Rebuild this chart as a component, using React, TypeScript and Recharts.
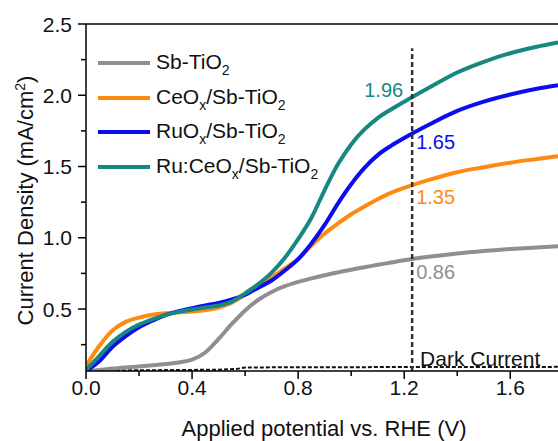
import { ComposedChart, Legend, Line, ReferenceLine, Scatter, XAxis, YAxis } from "recharts"

const FONT = "'Liberation Sans', Arial, sans-serif"

// applied potential (V vs RHE) shared by the four photocurrent curves
const potential = [0, 0.05, 0.1, 0.15, 0.2, 0.25, 0.3, 0.35, 0.4, 0.45, 0.5, 0.55, 0.6, 0.65, 0.7, 0.75, 0.8, 0.85, 0.9, 0.95, 1.0, 1.05, 1.1, 1.15, 1.2, 1.3, 1.4, 1.5, 1.6, 1.7, 1.78]

// current density (mA/cm2)
const sbTiO2 = [0.065, 0.072, 0.082, 0.09, 0.097, 0.105, 0.114, 0.125, 0.145, 0.195, 0.29, 0.395, 0.49, 0.565, 0.62, 0.66, 0.69, 0.715, 0.737, 0.757, 0.776, 0.793, 0.81, 0.826, 0.842, 0.868, 0.89, 0.907, 0.921, 0.932, 0.94]
const ceOxSbTiO2 = [0.1, 0.24, 0.35, 0.41, 0.44, 0.46, 0.47, 0.477, 0.483, 0.492, 0.51, 0.545, 0.6, 0.66, 0.72, 0.785, 0.85, 0.945, 1.03, 1.1, 1.165, 1.22, 1.27, 1.315, 1.35, 1.41, 1.46, 1.495, 1.527, 1.553, 1.573]
const ruOxSbTiO2 = [0.065, 0.133, 0.235, 0.31, 0.372, 0.418, 0.458, 0.485, 0.506, 0.525, 0.543, 0.567, 0.6, 0.65, 0.7, 0.77, 0.85, 0.96, 1.09, 1.24, 1.375, 1.49, 1.58, 1.645, 1.7, 1.8, 1.89, 1.955, 2.005, 2.045, 2.07]
const ruCeOxSbTiO2 = [0.07, 0.17, 0.27, 0.34, 0.39, 0.427, 0.457, 0.48, 0.497, 0.51, 0.525, 0.552, 0.61, 0.675, 0.755, 0.86, 0.99, 1.14, 1.335, 1.515, 1.655, 1.76, 1.84, 1.9, 1.955, 2.06, 2.16, 2.235, 2.295, 2.34, 2.37]

const darkPotential = [0, 0.2, 0.5, 0.57, 0.6, 1.0, 1.78]
const darkCurrent = [0.066, 0.07, 0.074, 0.08, 0.09, 0.092, 0.094]

const xTicks = [0, 0.2, 0.4, 0.6, 0.8, 1.0, 1.2, 1.4, 1.6]
const yTicks = [0.25, 0.5, 0.75, 1.0, 1.25, 1.5, 1.75, 2.0, 2.25, 2.5]

const GRAY = "#8f8f8f"
const ORANGE = "#ff8a12"
const BLUE = "#0c0cf0"
const TEAL = "#16887f"

const series = [
    { label: "Sb-TiO_2", color: GRAY, values: sbTiO2 },
    { label: "CeO_x/Sb-TiO_2", color: ORANGE, values: ceOxSbTiO2 },
    { label: "RuO_x/Sb-TiO_2", color: BLUE, values: ruOxSbTiO2 },
    { label: "Ru:CeO_x/Sb-TiO_2", color: TEAL, values: ruCeOxSbTiO2 },
]

// values read at 1.23 V, placed next to the dashed line
const annotations = [
    { v: 1.23, j: 2.037, text: "1.96", color: TEAL, anchor: "end", dx: -9, size: 20 },
    { v: 1.23, j: 1.672, text: "1.65", color: BLUE, anchor: "start", dx: 4, size: 20 },
    { v: 1.23, j: 1.286, text: "1.35", color: ORANGE, anchor: "start", dx: 4, size: 20 },
    { v: 1.23, j: 0.76, text: "0.86", color: GRAY, anchor: "start", dx: 4, size: 20 },
    { v: 1.26, j: 0.156, text: "Dark Current", color: "#111", anchor: "start", dx: 0, size: 21 },
]

const toPoints = (xs: number[], ys: number[]) => xs.map((v, i) => ({ v, j: ys[i] }))

// "CeO_x" -> CeO with subscript x
function richLabel(label: string) {
    const parts = label.split(/_(.)/)
    return parts.map((p, i) =>
        i % 2 === 1 ? (
            <span key={i} style={{ fontSize: 14, position: "relative", top: 6 }}>{p}</span>
        ) : (
            <span key={i}>{p}</span>
        )
    )
}

function LegendBox() {
    return (
        <div style={{ fontFamily: FONT, fontSize: 21, color: "#111" }}>
            {series.map((s) => (
                <div key={s.label} style={{ display: "flex", alignItems: "center", height: 34.5, lineHeight: "34.5px", whiteSpace: "nowrap" }}>
                    <div style={{ width: 52, height: 4, background: s.color, marginRight: 6 }} />
                    <div>{richLabel(s.label)}</div>
                </div>
            ))}
        </div>
    )
}

function YTick(props: any) {
    const { x, y, payload } = props
    const major = Math.abs(payload.value * 2 - Math.round(payload.value * 2)) < 1e-6
    return (
        <g>
            <line x1={x - (major ? 8 : 5)} x2={x} y1={y} y2={y} stroke="#000" strokeWidth={1.5} />
            {major && (
                <text x={x - 14} y={y} dy="0.36em" textAnchor="end" fontSize={21} fontFamily={FONT} fill="#111">
                    {payload.value.toFixed(1)}
                </text>
            )}
        </g>
    )
}

function XTick(props: any) {
    const { x, y, payload } = props
    const major = Math.abs(payload.value / 0.4 - Math.round(payload.value / 0.4)) < 1e-6
    return (
        <g>
            <line x1={x} x2={x} y1={y} y2={y + (major ? 8 : 5)} stroke="#000" strokeWidth={1.5} />
            {major && (
                <text x={x} y={y + 24} textAnchor="middle" fontSize={21} fontFamily={FONT} fill="#111">
                    {payload.value.toFixed(1)}
                </text>
            )}
        </g>
    )
}

function XTitle(props: any) {
    const vb = props.viewBox
    return (
        <text x={vb.x + vb.width / 2 + 2} y={vb.y + 65} textAnchor="middle" fontSize={22} fontFamily={FONT} fill="#111">
            Applied potential vs. RHE (V)
        </text>
    )
}

function YTitle(props: any) {
    const vb = props.viewBox
    const cy = vb.y + vb.height / 2 + 3
    return (
        <text transform={`translate(33, ${cy}) rotate(-90)`} textAnchor="middle" fontSize={22} fontFamily={FONT} fill="#111">
            Current Density (mA/cm<tspan dy={-8} fontSize={14}>2</tspan><tspan dy={8}>)</tspan>
        </text>
    )
}

function AnnotationText(props: any) {
    const { cx, cy, payload } = props
    return (
        <text x={cx + payload.dx} y={cy} dy="0.36em" textAnchor={payload.anchor} fontSize={payload.size} fontFamily={FONT} fill={payload.color}>
            {payload.text}
        </text>
    )
}

export default function App() {
    return (
        <div style={{ position: "absolute", left: 0, top: 0, background: "#fff" }}>
            <ComposedChart width={558} height={441} margin={{ top: 24, right: 0, bottom: 0, left: 0 }}>
                <XAxis
                    type="number"
                    dataKey="v"
                    domain={[0, 1.78]}
                    allowDataOverflow
                    ticks={xTicks}
                    interval={0}
                    height={70}
                    tickSize={0}
                    tickMargin={0}
                    tickLine={false}
                    tick={<XTick />}
                    axisLine={{ stroke: "#000", strokeWidth: 1.5 }}
                    label={{ content: XTitle }}
                />
                <YAxis
                    type="number"
                    dataKey="j"
                    domain={[0.065, 2.5]}
                    allowDataOverflow
                    ticks={yTicks}
                    interval={0}
                    width={86}
                    tickSize={0}
                    tickMargin={0}
                    tickLine={false}
                    tick={<YTick />}
                    axisLine={{ stroke: "#000", strokeWidth: 1.5 }}
                    label={{ content: YTitle }}
                />
                <ReferenceLine y={2.5} stroke="#000" strokeWidth={1.5} />
                <Legend layout="vertical" align="center" verticalAlign="middle" wrapperStyle={{ left: 98, top: 46, width: "auto" }} content={<LegendBox />} />
                <Line
                    data={toPoints(darkPotential, darkCurrent)}
                    dataKey="j"
                    type="linear"
                    stroke="#111"
                    strokeWidth={2}
                    strokeDasharray="4 2"
                    dot={false}
                    activeDot={false}
                    legendType="none"
                    isAnimationActive={false}
                />
                {series.map((s) => (
                    <Line
                        key={s.label}
                        name={s.label}
                        data={toPoints(potential, s.values)}
                        dataKey="j"
                        type="monotone"
                        stroke={s.color}
                        strokeWidth={4}
                        dot={false}
                        activeDot={false}
                        isAnimationActive={false}
                    />
                ))}
                <ReferenceLine
                    segment={[{ x: 1.23, y: 0.065 }, { x: 1.23, y: 2.33 }]}
                    stroke="#333"
                    strokeWidth={2.5}
                    strokeDasharray="5 3"
                />
                <Scatter data={annotations} dataKey="j" shape={<AnnotationText />} legendType="none" isAnimationActive={false} />
            </ComposedChart>
        </div>
    )
}
